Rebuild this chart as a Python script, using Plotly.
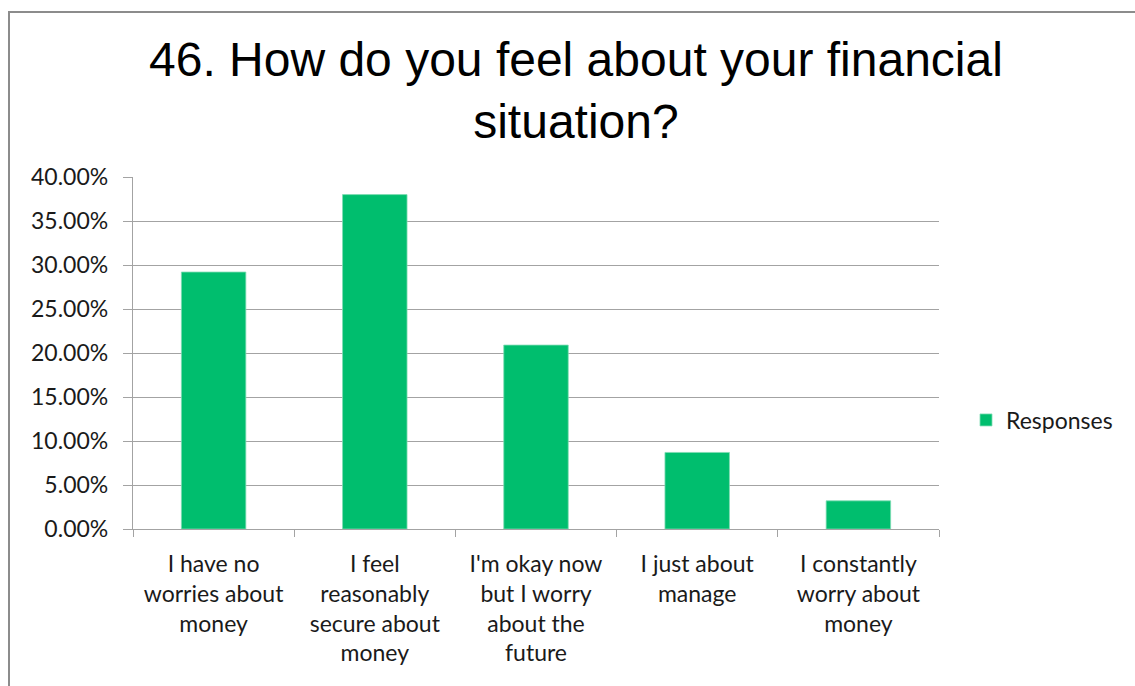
import plotly.graph_objects as go

# Survey question 46: share of responses per answer
categories = [
    "I have no<br>worries about<br>money",
    "I feel<br>reasonably<br>secure about<br>money",
    "I'm okay now<br>but I worry<br>about the<br>future",
    "I just about<br>manage",
    "I constantly<br>worry about<br>money",
]
responses = [0.292, 0.380, 0.209, 0.087, 0.032]
y_ticks = [0.0, 0.05, 0.10, 0.15, 0.20, 0.25, 0.30, 0.35, 0.40]
title_text = "46. How do you feel about your financial<br>situation?"

W, H = 1135, 686
ML, MR, MT, MB = 133, 196, 177, 157
PW, PH = W - ML - MR, H - MT - MB

def px_x(x):
    return (x - ML) / PW

def px_y(y):
    return (H - MB - y) / PH

GREEN = "#00BE6E"
GRID = "#A3A3A3"
LABEL_FONT = dict(family="Lato, Carlito, sans-serif", size=23, color="#1a1a1a")

fig = go.Figure(
    go.Bar(
        x=categories,
        y=responses,
        name="Responses",
        marker=dict(color=GREEN, line=dict(color="#7fdcb4", width=0.8)),
        showlegend=True,
    )
)

fig.update_layout(
    width=W,
    height=H,
    margin=dict(l=ML, r=MR, t=MT, b=MB),
    paper_bgcolor="white",
    plot_bgcolor="white",
    bargap=0.6,
    legend=dict(
        x=px_x(966),
        y=px_y(420),
        xanchor="left",
        yanchor="middle",
        font=LABEL_FONT,
        bgcolor="rgba(0,0,0,0)",
    ),
    font=LABEL_FONT,
)

# chart title, two centred lines
fig.add_annotation(
    text=title_text,
    xref="paper",
    yref="paper",
    x=px_x(576),
    y=px_y(90),
    xanchor="center",
    yanchor="middle",
    showarrow=False,
    align="center",
    font=dict(family="Liberation Sans, Arial, sans-serif", size=48, color="black"),
)

fig.update_yaxes(
    range=[0, 0.4],
    tickvals=y_ticks,
    tickformat=".2%",
    showgrid=True,
    gridcolor=GRID,
    gridwidth=1.3,
    zeroline=False,
    showline=True,
    linecolor=GRID,
    linewidth=1.3,
    ticks="outside",
    ticklen=9,
    tickcolor=GRID,
    ticklabelstandoff=10,
    tickfont=LABEL_FONT,
)

fig.update_xaxes(
    showline=True,
    linecolor=GRID,
    linewidth=1.3,
    ticks="outside",
    tickson="boundaries",
    ticklen=7,
    tickcolor=GRID,
    tickangle=0,
    tickfont=LABEL_FONT,
    ticklabelstandoff=14,
    showgrid=False,
)

# outer chart frame (top and left edges visible)
fig.add_shape(
    type="rect",
    xref="paper",
    yref="paper",
    x0=px_x(9),
    y0=px_y(12),
    x1=px_x(W + 10),
    y1=px_y(H + 10),
    line=dict(color="#8c8c8c", width=2),
    fillcolor="rgba(0,0,0,0)",
    layer="below",
)

fig.write_html("out.html")
